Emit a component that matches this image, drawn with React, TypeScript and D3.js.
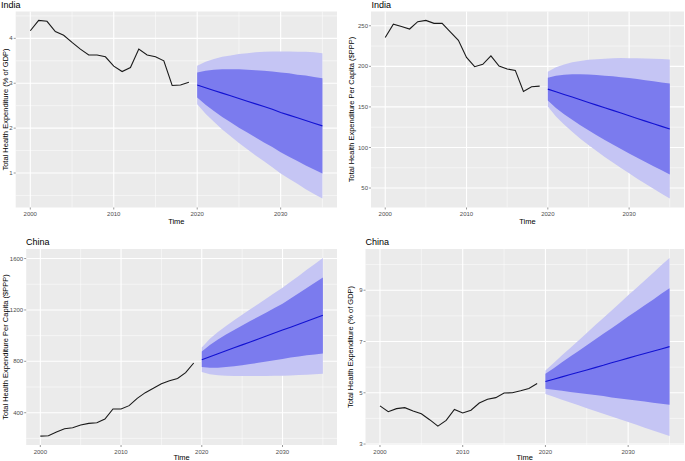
import * as d3 from "d3";

// historical years and forecast horizon
const histYears = [2000, 2001, 2002, 2003, 2004, 2005, 2006, 2007, 2008, 2009,
    2010, 2011, 2012, 2013, 2014, 2015, 2016, 2017, 2018, 2019];
const fcYears = [2020, 2021, 2022, 2023, 2024, 2025, 2026, 2027, 2028, 2029,
    2030, 2031, 2032, 2033, 2034, 2035];
const xTicks = [2000, 2010, 2020, 2030];

// India, % of GDP
const indiaGdpHist = [4.17, 4.40, 4.38, 4.15, 4.07, 3.91, 3.76, 3.63, 3.63, 3.59,
    3.38, 3.26, 3.35, 3.76, 3.63, 3.59, 3.50, 2.95, 2.96, 3.02];
const indiaGdpMean = [2.96, 2.90, 2.84, 2.78, 2.72, 2.66, 2.60, 2.54, 2.48, 2.42, 2.35, 2.29, 2.23, 2.17, 2.11, 2.05];
const indiaGdpHi80 = [3.24, 3.28, 3.30, 3.31, 3.31, 3.31, 3.30, 3.29, 3.28, 3.26, 3.24, 3.22, 3.19, 3.17, 3.14, 3.11];
const indiaGdpLo80 = [2.68, 2.52, 2.38, 2.25, 2.13, 2.01, 1.90, 1.79, 1.68, 1.58, 1.46, 1.36, 1.27, 1.17, 1.08, 0.99];
const indiaGdpHi95 = [3.39, 3.48, 3.54, 3.59, 3.62, 3.65, 3.67, 3.69, 3.70, 3.71, 3.71, 3.71, 3.70, 3.70, 3.69, 3.67];
const indiaGdpLo95 = [2.53, 2.32, 2.14, 1.97, 1.82, 1.67, 1.53, 1.39, 1.26, 1.13, 0.99, 0.87, 0.76, 0.64, 0.53, 0.43];
const indiaGdpTicks = [1, 2, 3, 4];

// India, per capita $PPP
const indiaPcHist = [235.5, 252, 249, 246, 255, 256.6, 253, 253, 242.6, 232,
    211, 199.6, 202.5, 213, 200.4, 196.7, 195, 169, 174.8, 175.6];
const indiaPcMean = [171.9, 168.6, 165.3, 162.1, 158.8, 155.5, 152.2, 148.9, 145.7, 142.4, 139.1, 135.8, 132.5, 129.3, 126.0, 122.7];
const indiaPcHi80 = [185.9, 188.4, 189.5, 190.1, 190.1, 189.8, 189.2, 188.5, 187.7, 186.7, 185.5, 184.3, 183.0, 181.7, 180.2, 178.7];
const indiaPcLo80 = [157.9, 148.8, 141.1, 134.1, 127.5, 121.2, 115.2, 109.3, 103.7, 98.1, 92.7, 87.3, 82.0, 76.9, 71.8, 66.7];
const indiaPcHi95 = [193.3, 198.9, 202.3, 204.9, 206.7, 208.0, 208.8, 209.5, 210.0, 210.2, 210.1, 210.0, 209.8, 209.5, 208.9, 208.4];
const indiaPcLo95 = [150.5, 138.3, 128.3, 119.3, 110.9, 103.0, 95.6, 88.3, 81.4, 74.6, 68.1, 61.6, 55.2, 49.1, 43.1, 37.0];
const indiaPcTicks = [50, 100, 150, 200, 250];

// China, per capita $PPP
const chinaPcHist = [218, 221, 249, 275, 283, 304, 317, 322, 351, 429,
    429, 455, 512, 556, 590, 626, 649, 667, 712, 787];
const chinaPcMean = [813, 836, 859, 882, 905, 928, 951, 974, 997, 1020, 1043, 1066, 1089, 1112, 1135, 1158];
const chinaPcHi80 = [876, 928, 970, 1008, 1044, 1079, 1113, 1147, 1181, 1215, 1249, 1289, 1330, 1370, 1411, 1452];
const chinaPcLo80 = [756, 750, 750, 755, 762, 770, 779, 788, 798, 808, 818, 829, 838, 847, 854, 860];
const chinaPcHi95 = [907, 975, 1028, 1075, 1120, 1163, 1205, 1247, 1289, 1331, 1373, 1419, 1465, 1512, 1558, 1605];
const chinaPcLo95 = [717, 700, 692, 688, 686, 685, 685, 685, 686, 687, 688, 690, 693, 696, 700, 704];
const chinaPcTicks = [400, 800, 1200, 1600];

// China, % of GDP
const chinaGdpHist = [4.49, 4.26, 4.38, 4.42, 4.29, 4.18, 3.95, 3.70, 3.92, 4.35,
    4.21, 4.32, 4.60, 4.75, 4.81, 4.99, 5.00, 5.08, 5.17, 5.36];
const chinaGdpMean = [5.44, 5.53, 5.62, 5.71, 5.80, 5.89, 5.98, 6.07, 6.17, 6.26, 6.35, 6.44, 6.53, 6.62, 6.71, 6.80];
const chinaGdpHi80 = [5.74, 5.96, 6.19, 6.41, 6.63, 6.85, 7.08, 7.30, 7.52, 7.74, 7.97, 8.19, 8.41, 8.63, 8.86, 9.08];
const chinaGdpLo80 = [5.16, 5.12, 5.08, 5.03, 4.99, 4.95, 4.91, 4.87, 4.82, 4.78, 4.74, 4.70, 4.66, 4.61, 4.57, 4.53];
const chinaGdpHi95 = [5.87, 6.16, 6.46, 6.75, 7.04, 7.33, 7.63, 7.92, 8.21, 8.50, 8.80, 9.09, 9.38, 9.67, 9.97, 10.26];
const chinaGdpLo95 = [4.95, 4.84, 4.73, 4.62, 4.51, 4.40, 4.29, 4.18, 4.07, 3.97, 3.86, 3.75, 3.64, 3.53, 3.42, 3.31];
const chinaGdpTicks = [3, 5, 7, 9];

const FONT = "'Liberation Sans', Arial, Helvetica, sans-serif";

interface Box { x0: number; x1: number; y0: number; y1: number; }

interface PanelProps {
    title: string;
    yLabel: string;
    yTicks: number[];
    hist: number[];
    mean: number[];
    lo80: number[];
    hi80: number[];
    lo95: number[];
    hi95: number[];
    box: Box;
    yTitleX: number;
    titleX: number;
    timeDy: number;
}

function Panel({ title, yLabel, yTicks, hist, mean, lo80, hi80, lo95, hi95, box, yTitleX, titleX, timeDy }: PanelProps) {
    // ggplot style 5% expansion on both axes
    const xMin = 2000, xMax = 2035;
    const xPad = (xMax - xMin) * 0.05;
    const all = [...hist, ...lo95, ...hi95];
    const yMin = d3.min(all) ?? 0;
    const yMax = d3.max(all) ?? 1;
    const yPad = (yMax - yMin) * 0.05;

    const x = d3.scaleLinear().domain([xMin - xPad, xMax + xPad]).range([box.x0, box.x1]);
    const y = d3.scaleLinear().domain([yMin - yPad, yMax + yPad]).range([box.y1, box.y0]);

    const ystep = yTicks[1] - yTicks[0];
    const yMinor = [yTicks[0] - ystep / 2, ...yTicks.map(t => t + ystep / 2)]
        .filter(v => v >= y.domain()[0] && v <= y.domain()[1]);
    const xMinor = [2005, 2015, 2025, 2035];

    const band = (lo: number[], hi: number[]) => d3.area<number>()
        .x((_, i) => x(fcYears[i]))
        .y0((_, i) => y(lo[i]))
        .y1((_, i) => y(hi[i]))(fcYears.map((_, i) => i)) ?? "";

    const line = (yrs: number[], vals: number[]) => d3.line<number>()
        .x((_, i) => x(yrs[i]))
        .y(d => y(d))(vals) ?? "";

    const cx = (box.x0 + box.x1) / 2;
    const cy = (box.y0 + box.y1) / 2;

    return (
        <g>
            <rect x={box.x0} y={box.y0} width={box.x1 - box.x0} height={box.y1 - box.y0} fill="#EBEBEB" />
            {yMinor.map(v => (
                <line key={"ym" + v} x1={box.x0} x2={box.x1} y1={y(v)} y2={y(v)} stroke="#fff" strokeWidth={0.5} />
            ))}
            {xMinor.map(v => (
                <line key={"xm" + v} x1={x(v)} x2={x(v)} y1={box.y0} y2={box.y1} stroke="#fff" strokeWidth={0.5} />
            ))}
            {yTicks.map(v => (
                <line key={"yM" + v} x1={box.x0} x2={box.x1} y1={y(v)} y2={y(v)} stroke="#fff" strokeWidth={1.1} />
            ))}
            {xTicks.map(v => (
                <line key={"xM" + v} x1={x(v)} x2={x(v)} y1={box.y0} y2={box.y1} stroke="#fff" strokeWidth={1.1} />
            ))}

            <path d={band(lo95, hi95)} fill="#C5C5F4" />
            <path d={band(lo80, hi80)} fill="#7B7BEE" />
            <path d={line(fcYears, mean)} fill="none" stroke="#1212D2" strokeWidth={1.1} />
            <path d={line(histYears, hist)} fill="none" stroke="#1a1a1a" strokeWidth={1.1} />

            {/* axes ticks and labels */}
            {xTicks.map(v => (
                <g key={"xt" + v}>
                    <line x1={x(v)} x2={x(v)} y1={box.y1} y2={box.y1 + 2} stroke="#333" strokeWidth={0.5} />
                    <text x={x(v)} y={box.y1 + 8.5} textAnchor="middle" fontSize={6} fill="#4d4d4d" fontFamily={FONT}>{v}</text>
                </g>
            ))}
            {yTicks.map(v => (
                <g key={"yt" + v}>
                    <line x1={box.x0 - 2} x2={box.x0} y1={y(v)} y2={y(v)} stroke="#333" strokeWidth={0.5} />
                    <text x={box.x0 - 3} y={y(v) + 2.1} textAnchor="end" fontSize={6} fill="#4d4d4d" fontFamily={FONT}>{v}</text>
                </g>
            ))}

            <text x={cx} y={box.y1 + timeDy} textAnchor="middle" fontSize={7.5} fill="#000" fontFamily={FONT}>Time</text>
            <text transform={`translate(${yTitleX},${cy}) rotate(-90)`} textAnchor="middle" dy="0.35em"
                fontSize={7.5} fill="#000" fontFamily={FONT}>{yLabel}</text>
            <text x={titleX} y={box.y0 - 4} fontSize={9} fill="#000" fontFamily={FONT}>{title}</text>
        </g>
    );
}

export default function App() {
    return (
        <svg width={685} height={461} style={{ position: "absolute", left: 0, top: 0, background: "#fff" }}>
            <Panel title="India" yLabel="Total Health Expenditure (% of GDP)" yTicks={indiaGdpTicks}
                hist={indiaGdpHist} mean={indiaGdpMean} lo80={indiaGdpLo80} hi80={indiaGdpHi80}
                lo95={indiaGdpLo95} hi95={indiaGdpHi95}
                box={{ x0: 15.7, x1: 337, y0: 11.5, y1: 207.5 }} yTitleX={5} titleX={1} timeDy={16.5} />
            <Panel title="India" yLabel="Total Health Expenditure Per Capita ($PPP)" yTicks={indiaPcTicks}
                hist={indiaPcHist} mean={indiaPcMean} lo80={indiaPcLo80} hi80={indiaPcHi80}
                lo95={indiaPcLo95} hi95={indiaPcHi95}
                box={{ x0: 371, x1: 684, y0: 11.5, y1: 207.5 }} yTitleX={351.5} titleX={371.5} timeDy={16.5} />
            <Panel title="China" yLabel="Total Health Expenditure Per Capita ($PPP)" yTicks={chinaPcTicks}
                hist={chinaPcHist} mean={chinaPcMean} lo80={chinaPcLo80} hi80={chinaPcHi80}
                lo95={chinaPcLo95} hi95={chinaPcHi95}
                box={{ x0: 26.2, x1: 337, y0: 249, y1: 445 }} yTitleX={5} titleX={26} timeDy={15} />
            <Panel title="China" yLabel="Total Health Expenditure (% of GDP)" yTicks={chinaGdpTicks}
                hist={chinaGdpHist} mean={chinaGdpMean} lo80={chinaGdpLo80} hi80={chinaGdpHi80}
                lo95={chinaGdpLo95} hi95={chinaGdpHi95}
                box={{ x0: 365.5, x1: 684, y0: 249, y1: 445 }} yTitleX={350} titleX={365.5} timeDy={15} />
        </svg>
    );
}
